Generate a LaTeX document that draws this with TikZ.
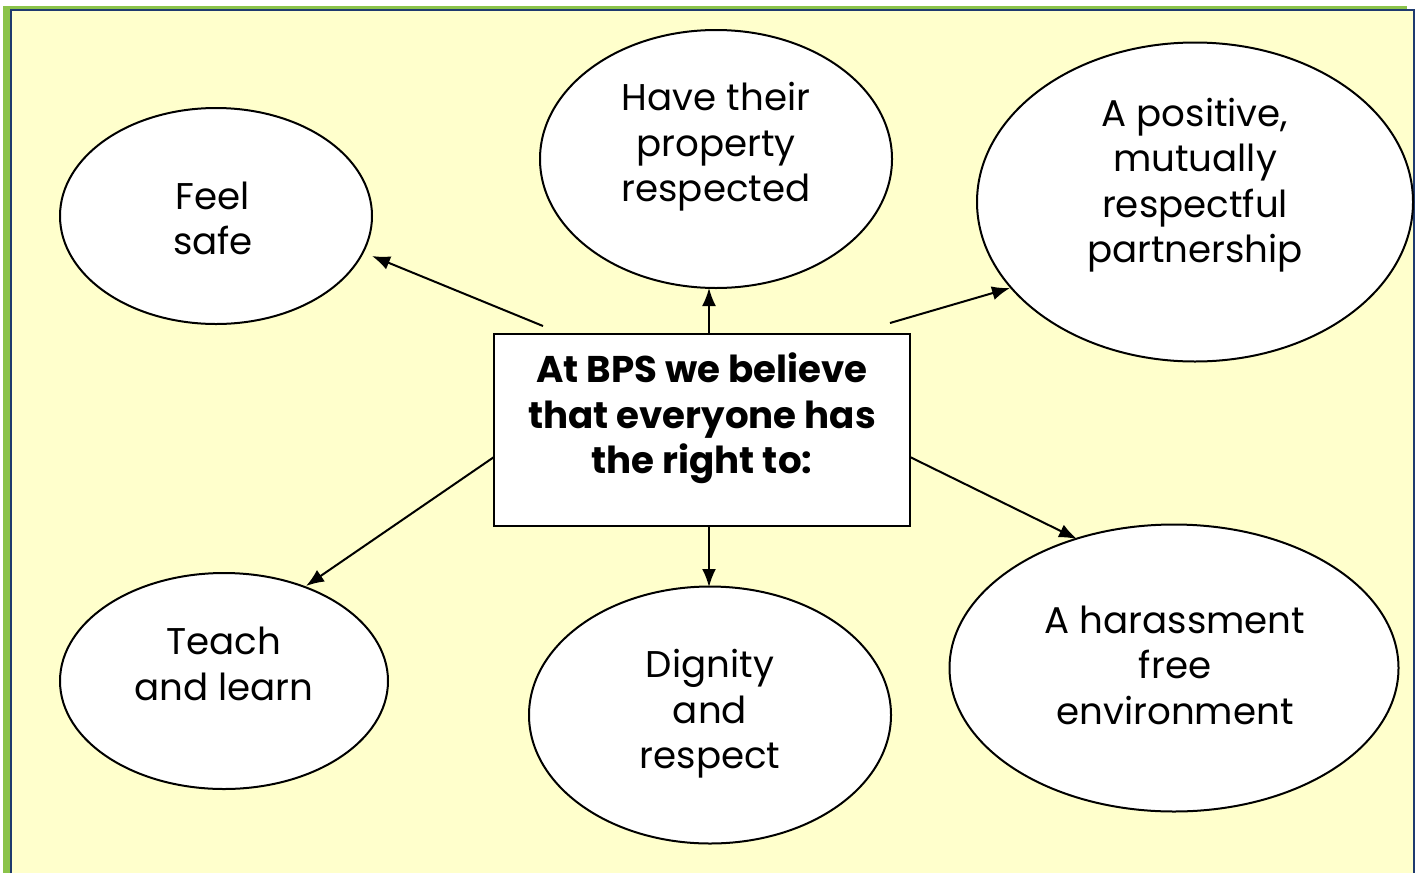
\documentclass[tikz,border=0pt]{standalone}
\usepackage{fontspec}
\setmainfont{Poppins}
\usetikzlibrary{arrows.meta,shapes.geometric}
\definecolor{bgyellow}{HTML}{FFFFCC}
\definecolor{framegreen}{HTML}{8BC34A}
\definecolor{frameblue}{HTML}{1F3A6E}
\begin{document}
\begin{tikzpicture}[x=0.5pt,y=-0.5pt,
  ell/.style={draw=black,line width=1pt,fill=white,ellipse,inner sep=0pt},
  txt/.style={align=center,font=\fontsize{18.6}{22.7}\selectfont},
  boxtxt/.style={align=center,font=\fontsize{18.6}{22.7}\selectfont\bfseries},
  arr/.style={line width=1pt,-{Latex[length=9pt,width=7pt]}}]
\useasboundingbox (0,0) rectangle (1423,873);
% background and frame
\fill[bgyellow] (10,10) rectangle (1414,873);
\fill[framegreen] (3,6) rectangle (10,873);
\fill[framegreen] (3,6) rectangle (1407,10);
\draw[frameblue,line width=1pt] (11,873) -- (11,10) -- (1414,10) -- (1414,873);
% ellipses
\node[ell,minimum width=156pt,minimum height=108pt] (feel) at (216,216) {};
\node[ell,minimum width=176pt,minimum height=129pt] (prop) at (716,159) {};
\node[ell,minimum width=218pt,minimum height=159.5pt] (pos) at (1195,202) {};
\node[ell,minimum width=164pt,minimum height=108pt] (teach) at (224,681) {};
\node[ell,minimum width=181pt,minimum height=128.5pt] (dig) at (710,715) {};
\node[ell,minimum width=224.5pt,minimum height=143.5pt] (har) at (1174,668) {};
% texts
\node[txt] (feelt) at (213,218.5) {Feel\\safe};
\node[txt] (propt) at (716,147) {Have their\\property\\respected};
\node[txt] (post) at (1195,185) {A positive,\\mutually\\respectful\\partnership};
\node[txt] (teacht) at (224,664) {Teach\\and learn};
\node[txt] (digt) at (710,714) {Dignity\\and\\respect};
\node[txt] (hart) at (1175,665) {A harassment\\free\\environment};
% centre box
\node[draw=black,line width=1pt,fill=white,minimum width=208pt,minimum height=96pt,inner sep=0pt] (c) at (702,430) {};
\node[boxtxt] (ct) at (702,418.5) {At BPS we believe\\that everyone has\\the right to:};
% connectors
\coordinate (s1) at (543,326); \coordinate (e1) at (372,256);
\coordinate (s2) at (709,334); \coordinate (e2) at (709,288);
\coordinate (s3) at (890,323); \coordinate (e3) at (1010,288);
\coordinate (s4) at (494,457); \coordinate (e4) at (306,586);
\coordinate (s5) at (709,526); \coordinate (e5) at (709,587);
\coordinate (s6) at (910,457); \coordinate (e6) at (1077,539);
\draw[arr] (s1) -- (e1);
\draw[arr] (s2) -- (e2);
\draw[arr] (s3) -- (e3);
\draw[arr] (s4) -- (e4);
\draw[arr] (s5) -- (e5);
\draw[arr] (s6) -- (e6);
\end{tikzpicture}
\end{document}
